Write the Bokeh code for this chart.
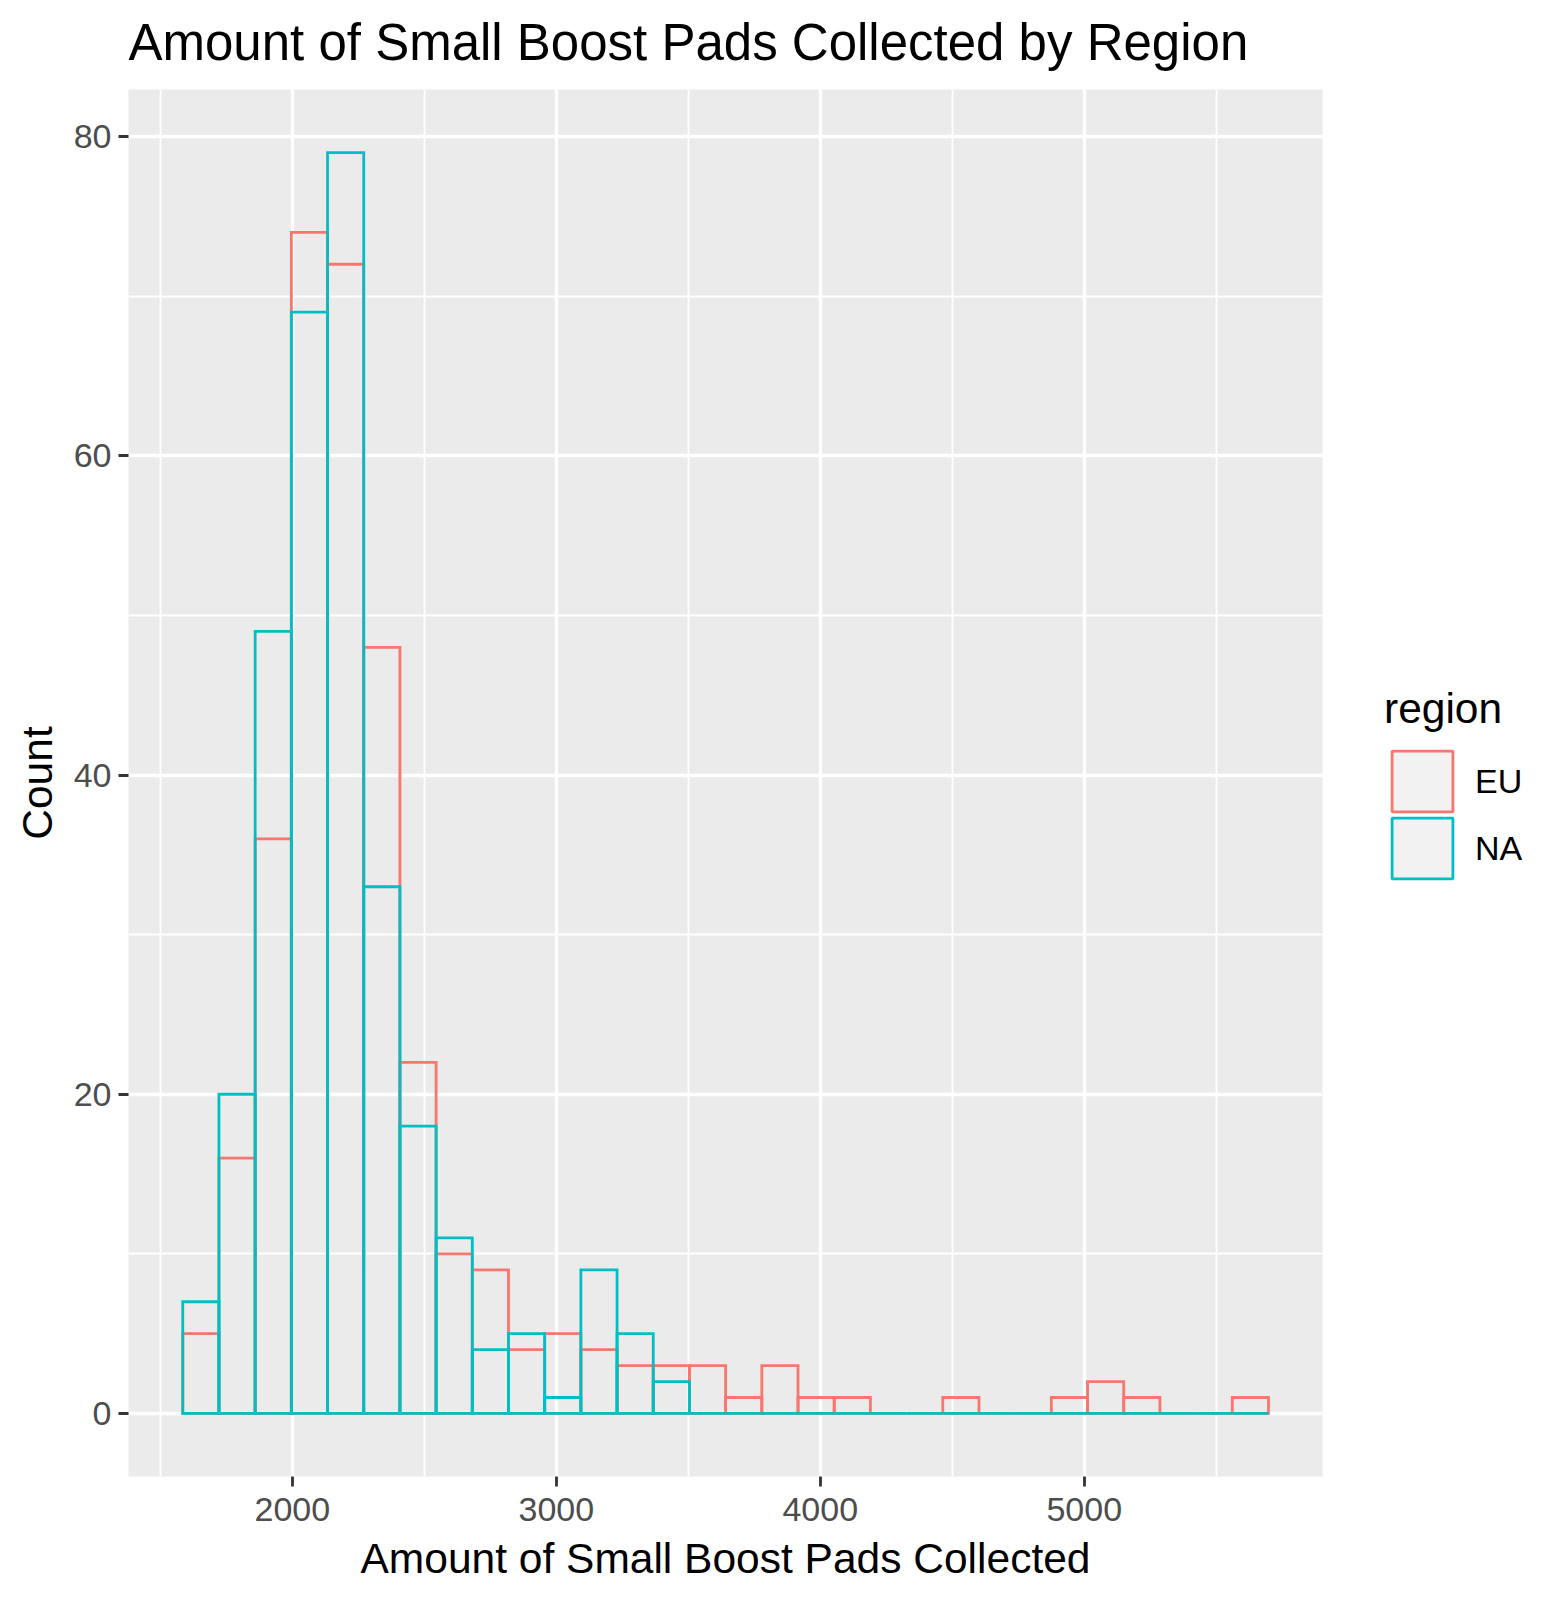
import numpy as np
from bokeh.plotting import figure
from bokeh.layouts import row
from bokeh.models import (Range1d, FixedTicker, Legend, LegendItem,
                          ColumnDataSource, Title)
from bokeh.embed import file_html
from bokeh.resources import INLINE

# ---- data ----
regions = ["EU", "NA"]
first_edge = 1585.0
bin_width = 137.1
eu_counts = [5, 16, 36, 74, 72, 48, 22, 10, 9, 4, 5, 4, 3, 3, 3, 1, 3, 1, 1, 0,
             0, 1, 0, 0, 1, 2, 1, 0, 0, 1]
na_counts = [7, 20, 49, 69, 79, 33, 18, 11, 4, 5, 1, 9, 5, 2, 0, 0, 0, 0, 0, 0,
             0, 0, 0, 0, 0, 0, 0, 0, 0, 0]
x_ticks = [2000, 3000, 4000, 5000]
x_minor = [1500, 2500, 3500, 4500, 5500]
y_ticks = [0, 20, 40, 60, 80]
y_minor = [10, 30, 50, 70]
colors = {"EU": "#F8766D", "NA": "#00BFC4"}

FONT = "Liberation Sans"
H = 1594
LW = 2.8

n_bins = len(eu_counts)
edges = first_edge + bin_width * np.arange(n_bins + 1)
left = edges[:-1]
right = edges[1:]

p = figure(frame_width=1194, frame_height=1387,
           min_border_left=128, min_border_right=10,
           min_border_top=89, min_border_bottom=H - 89 - 1387,
           x_range=Range1d(1379.4, 5902.6), y_range=Range1d(-3.95, 82.95),
           output_backend="svg", toolbar_location=None,
           title="Amount of Small Boost Pads Collected by Region")

p.background_fill_color = "#EBEBEB"
p.border_fill_color = "white"
p.outline_line_color = None

# spacer between frame and title (invisible, keeps the title higher)
p.add_layout(Title(text=" ", text_font_size="1px", standoff=8), "above")

# title
p.title.text_font = FONT
p.title.text_font_size = "51px"
p.title.text_font_style = "normal"
p.title.text_color = "black"
p.title.align = "left"
p.title.offset = 0
p.title.standoff = 15

# tickers / grids
xt = FixedTicker(ticks=x_ticks, minor_ticks=x_minor)
yt = FixedTicker(ticks=y_ticks, minor_ticks=y_minor)
p.xaxis.ticker = xt
p.yaxis.ticker = yt
p.xgrid.ticker = xt
p.ygrid.ticker = yt
for g in (p.xgrid, p.ygrid):
    g.grid_line_color = "white"
    g.grid_line_width = 3.4
    g.minor_grid_line_color = "white"
    g.minor_grid_line_width = 1.8

for ax in (p.xaxis, p.yaxis):
    ax.axis_line_color = None
    ax.major_tick_line_color = "#333333"
    ax.major_tick_line_width = 2.8
    ax.major_tick_out = 10
    ax.major_tick_in = 0
    ax.minor_tick_line_color = None
    ax.major_label_text_font = FONT
    ax.major_label_text_font_size = "34px"
    ax.major_label_text_color = "#4D4D4D"
    ax.axis_label_text_font = FONT
    ax.axis_label_text_font_size = "42.5px"
    ax.axis_label_text_font_style = "normal"
    ax.axis_label_text_color = "black"

p.xaxis.axis_label = "Amount of Small Boost Pads Collected"
p.yaxis.axis_label = "Count"
p.xaxis.major_label_standoff = 11
p.yaxis.major_label_standoff = 7
p.xaxis.axis_label_standoff = 11
p.yaxis.axis_label_standoff = 10

# histogram outlines (EU first, NA on top)
for name, counts in (("EU", eu_counts), ("NA", na_counts)):
    src = ColumnDataSource(dict(left=left, right=right, top=counts,
                                bottom=np.zeros(n_bins)))
    p.quad(left="left", right="right", top="top", bottom="bottom", source=src,
           fill_color=None, line_color=colors[name], line_width=LW,
           line_join="miter")

# ---- legend panel (separate figure to the right) ----
p_width = 128 + 1194 + 10
p2 = figure(width=1560 - p_width, height=H, min_border=0,
            x_range=Range1d(0, 1), y_range=Range1d(0, 1),
            x_axis_type=None, y_axis_type=None,
            output_backend="svg", toolbar_location=None)
p2.outline_line_color = None
p2.background_fill_color = "white"
p2.border_fill_color = "white"
p2.xgrid.visible = False
p2.ygrid.visible = False

# legend key proxies: one placeholder outside the visible range of the legend panel
key_renderers = {}
for name in regions:
    key_renderers[name] = p2.quad(left=[-10], right=[-9], top=[-9], bottom=[-10],
                                  fill_color="#F2F2F2", line_color=colors[name],
                                  line_width=LW)


def make_legend(name, title, y):
    lg = Legend(items=[LegendItem(label=name, renderers=[key_renderers[name]])],
                location=(52, y))
    if title:
        lg.title = title
    lg.padding = 0
    lg.margin = 0
    lg.spacing = 0
    lg.glyph_width = 76
    lg.glyph_height = 76
    lg.label_standoff = 15
    lg.label_text_font = FONT
    lg.label_text_font_size = "34px"
    lg.label_text_color = "black"
    lg.title_text_font = FONT
    lg.title_text_font_size = "42.5px"
    lg.title_text_font_style = "normal"
    lg.title_text_color = "black"
    lg.title_standoff = 10
    lg.background_fill_alpha = 0
    lg.border_line_color = None
    return lg


p2.add_layout(make_legend("EU", "region", 657))
p2.add_layout(make_legend("NA", None, 590))

layout = row(p, p2)
open("out.html", "w").write(file_html(layout, INLINE))
